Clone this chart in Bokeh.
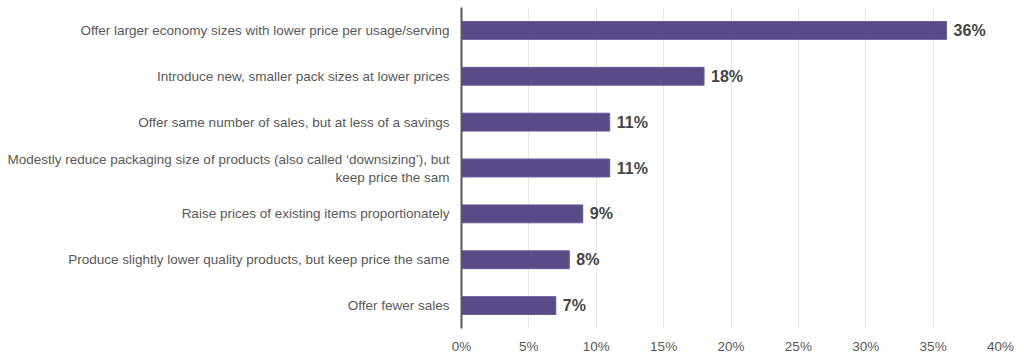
from bokeh.plotting import figure
from bokeh.models import ColumnDataSource, FactorRange, Range1d, FixedTicker
from bokeh.core.properties import value
from bokeh.embed import file_html
from bokeh.resources import INLINE

categories = [
    "Offer larger economy sizes with lower price per usage/serving",
    "Introduce new, smaller pack sizes at lower prices",
    "Offer same number of sales, but at less of a savings",
    "Modestly reduce packaging size of products (also called \u2018downsizing\u2019), but\nkeep price the sam",
    "Raise prices of existing items proportionately",
    "Produce slightly lower quality products, but keep price the same",
    "Offer fewer sales",
]
values = [36, 18, 11, 11, 9, 8, 7]
tick_values = [0, 5, 10, 15, 20, 25, 30, 35, 40]
tick_labels = [f"{t}%" for t in tick_values]

src = ColumnDataSource(dict(cat=categories, val=values, lab=[f"{v}%" for v in values]))

p = figure(width=1016, height=357, output_backend="svg", toolbar_location=None,
           y_range=FactorRange(factors=list(reversed(categories)), range_padding=0),
           x_range=Range1d(0, 40),
           min_border_left=461, min_border_right=16, min_border_top=7, min_border_bottom=29)
p.outline_line_color = None
p.background_fill_color = "white"

p.hbar(y="cat", right="val", left=0, height=0.39, source=src,
       fill_color="#5a4a86", line_color="#6b5c98", line_width=1)
p.text(x="val", y="cat", text="lab", source=src, x_offset=7,
       text_baseline="middle", text_align="left",
       text_font=value("Liberation Sans"), text_font_style="bold",
       text_font_size="16px", text_color="#454545")

p.xaxis.ticker = FixedTicker(ticks=tick_values)
p.xaxis.major_label_overrides = {t: l for t, l in zip(tick_values, tick_labels)}
p.xaxis.axis_line_color = None
p.xaxis.major_tick_line_color = None
p.xaxis.minor_tick_line_color = None
p.xaxis.major_label_text_font = "Liberation Sans"
p.xaxis.major_label_text_font_size = "13.5px"
p.xaxis.major_label_text_color = "#595959"
p.xaxis.major_label_standoff = 4

p.yaxis.axis_line_color = "#595959"
p.yaxis.axis_line_width = 2
p.yaxis.major_tick_line_color = None
p.yaxis.minor_tick_line_color = None
p.yaxis.major_label_text_font = "Liberation Sans"
p.yaxis.major_label_text_font_size = "13.5px"
p.yaxis.major_label_text_color = "#595959"
p.yaxis.major_label_standoff = 6
p.yaxis.major_label_text_align = "right"

p.xgrid.grid_line_color = "#e6e6e6"
p.xgrid.grid_line_width = 1
p.ygrid.grid_line_color = None

open("out.html", "w").write(file_html(p, INLINE))
